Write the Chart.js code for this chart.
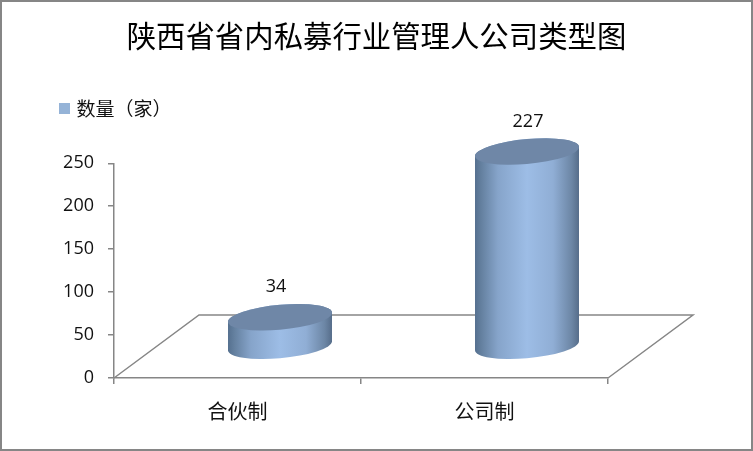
<!DOCTYPE html>
<html><head><meta charset="utf-8">
<style>html,body{margin:0;padding:0;background:#fff}canvas{display:block}</style>
<script src="https://cdn.jsdelivr.net/npm/chart.js@4/dist/chart.umd.min.js"></script>
</head><body><canvas id="c" width="753" height="451"></canvas>
<script>
const titleText = '陕西省省内私募行业管理人公司类型图';
const seriesName = '数量（家）';
const categories = ['合伙制', '公司制'];
const seriesValues = [34, 227];
const tickStep = 50, axisMax = 250;
const W = 753, H = 451;
const AXIS = '#868686', TEXT = '#111', SWATCH = '#95b3d7';
const CJK = '"Noto Sans CJK SC"', LATIN = '"Open Sans"';
const depthX = 85, depthY = 63;     // floor depth in pixels
const labelShift = [-4, 1];

const swatch = document.createElement('canvas');
swatch.width = 11; swatch.height = 11;
const sw = swatch.getContext('2d');
sw.fillStyle = SWATCH; sw.fillRect(0, 0, 11, 11);

const scene = {
  id: 'scene',
  afterLayout(chart) {
    const t = chart.titleBlock; t.left = 0; t.right = W;
    const l = chart.legend; l.left = 52; l.right = W; l.top -= 35; l.bottom -= 35;
  },
  beforeDatasetsDraw(chart) {
    const {ctx, scales: {x, y}} = chart;
    const y0 = y.getPixelForValue(0);
    ctx.save();
    ctx.strokeStyle = AXIS; ctx.lineWidth = 1.5;
    ctx.beginPath();
    ctx.moveTo(x.left, y0);
    ctx.lineTo(x.left + depthX, y0 - depthY);
    ctx.lineTo(x.right + depthX, y0 - depthY);
    ctx.lineTo(x.right, y0);
    ctx.stroke();
    ctx.restore();
  },
  beforeDatasetDraw(chart, args) {
    const {ctx} = chart;
    args.meta.data.forEach((bar, i) => {
      const half = bar.width / 2, cx = bar.x + depthX / 2, ox = cx - half;
      const baseY = bar.base - depthY / 2, topY = bar.y - depthY / 2;
      const ry = 12.5, skew = 4.5 / half;
      const tiltPath = (cy, a0, a1, ccw) => {
        ctx.save();
        ctx.transform(1, -skew, 0, 1, cx, cy);
        ctx.ellipse(0, 0, half, ry, 0, a0, a1, ccw);
        ctx.restore();
      };
      const g = ctx.createLinearGradient(ox, 0, ox + bar.width, 0);
      g.addColorStop(0, '#55708f');
      g.addColorStop(0.06, '#64809f');
      g.addColorStop(0.22, '#86a4ca');
      g.addColorStop(0.5, '#9dbde6');
      g.addColorStop(0.75, '#90aed5');
      g.addColorStop(0.93, '#6c86a5');
      g.addColorStop(1, '#566d8a');
      ctx.beginPath();
      tiltPath(topY, Math.PI, 0, false);
      tiltPath(baseY, 0, Math.PI, false);
      ctx.closePath();
      ctx.fillStyle = g; ctx.fill();
      ctx.beginPath();
      tiltPath(topY, 0, Math.PI * 2, false);
      ctx.fillStyle = '#6f87a7'; ctx.fill();
      ctx.fillStyle = TEXT;
      ctx.font = '18px ' + LATIN;
      ctx.textAlign = 'center'; ctx.textBaseline = 'middle';
      ctx.fillText(String(seriesValues[i]), cx + labelShift[i], topY - 30);
    });
    return false;
  },
  afterDraw(chart) {
    const {ctx} = chart;
    ctx.save();
    ctx.strokeStyle = AXIS; ctx.lineWidth = 2;
    ctx.strokeRect(1, 1, W - 2, H - 2);
    ctx.restore();
  }
};

new Chart(document.getElementById('c'), {
  type: 'bar',
  data: {labels: categories, datasets: [{
    label: seriesName, data: seriesValues,
    backgroundColor: SWATCH, borderWidth: 0, pointStyle: swatch,
    barPercentage: 1, categoryPercentage: 0.421
  }]},
  plugins: [scene],
  options: {
    responsive: false, animation: false, devicePixelRatio: 1,
    layout: {padding: {left: 0, right: 145, top: 14, bottom: 0}},
    plugins: {
      tooltip: {enabled: false},
      title: {display: true, text: titleText, color: '#000',
        font: {family: CJK, size: 29.4, weight: 'normal', lineHeight: 1.2},
        padding: {top: 4, bottom: 71}},
      legend: {display: true, position: 'top', align: 'start',
        labels: {usePointStyle: true, pointStyleWidth: 5, boxHeight: 11, padding: 10, color: TEXT,
          font: {family: CJK, size: 19}}}
    },
    scales: {
      x: {
        afterFit(s) { s.height = H - 378; },
        grid: {drawOnChartArea: false, color: AXIS, lineWidth: 1.5, tickLength: 6},
        border: {color: AXIS, width: 1.5},
        ticks: {color: TEXT, padding: 15, maxRotation: 0, font: {family: CJK, size: 20}}
      },
      y: {
        min: 0, max: axisMax,
        afterFit(s) { s.width = 114; },
        grid: {drawOnChartArea: false, color: AXIS, lineWidth: 1.5, tickLength: 6},
        border: {color: AXIS, width: 1.5},
        ticks: {stepSize: tickStep, color: TEXT, padding: 14, font: {family: LATIN, size: 18}}
      }
    }
  }
});
</script></body></html>
